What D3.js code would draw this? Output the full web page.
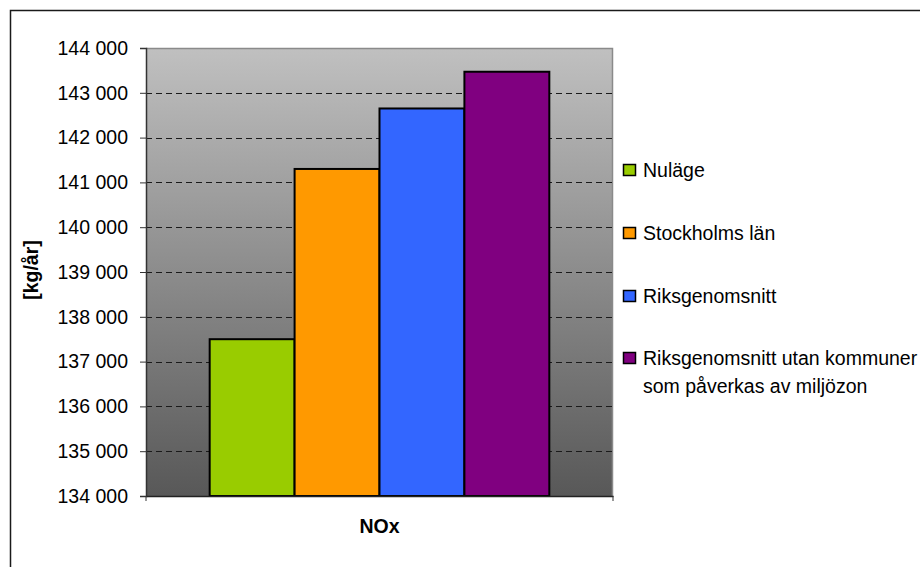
<!DOCTYPE html>
<html>
<head>
<meta charset="utf-8">
<script src="https://cdn.jsdelivr.net/npm/d3@7/dist/d3.min.js"></script>
<style>
  html, body { margin: 0; padding: 0; background: #fff; }
  svg { display: block; font-family: "Liberation Sans", Arial, sans-serif; }
</style>
</head>
<body>
<svg id="chart" width="920" height="567"></svg>
<script>
// Emission data: NOx per scenario, kg per year
const categories = ["NOx"];
const seriesNames = [
  "Nuläge",
  "Stockholms län",
  "Riksgenomsnitt",
  "Riksgenomsnitt utan kommuner som påverkas av miljözon"
];
const seriesValues = [137500, 141300, 142650, 143470];
const seriesColors = ["#99cc00", "#ff9900", "#3366ff", "#800080"];
const yTicks = [134000, 135000, 136000, 137000, 138000, 139000, 140000, 141000, 142000, 143000, 144000];
const legendLines = [
  ["Nuläge"],
  ["Stockholms län"],
  ["Riksgenomsnitt"],
  ["Riksgenomsnitt utan kommuner", "som påverkas av miljözon"]
];

const svg = d3.select("#chart");
const plot = { left: 146, top: 48, right: 613, bottom: 496 };

const sv = d3.formatLocale({ decimal: ",", thousands: "\u00a0", grouping: [3], currency: ["", " kr"] });
const fmt = sv.format(",d");

const y = d3.scaleLinear().domain([134000, 144000]).range([plot.bottom, plot.top]);
const x0 = d3.scaleBand().domain(categories).range([plot.left, plot.right]).padding(0);
const x1 = d3.scaleBand().domain(seriesNames).range([0, x0.bandwidth()])
  .paddingInner(0).paddingOuter(0.75);

// Outer chart frame
svg.append("rect")
  .attr("x", 10.5).attr("y", 10.5)
  .attr("width", 940).attr("height", 600)
  .attr("fill", "none").attr("stroke", "#1a1a1a").attr("stroke-width", 1.5);

// Plot background gradient
const defs = svg.append("defs");
const grad = defs.append("linearGradient")
  .attr("id", "plotBg").attr("x1", 0).attr("y1", 0).attr("x2", 0).attr("y2", 1);
grad.append("stop").attr("offset", "0%").attr("stop-color", "#c0c0c0");
grad.append("stop").attr("offset", "100%").attr("stop-color", "#585858");

svg.append("rect")
  .attr("x", plot.left).attr("y", plot.top)
  .attr("width", plot.right - plot.left).attr("height", plot.bottom - plot.top)
  .attr("fill", "url(#plotBg)");

// Plot border (top and right)
svg.append("path")
  .attr("d", `M${plot.left},${plot.top + 0.5}H${plot.right - 0.5}V${plot.bottom}`)
  .attr("fill", "none").attr("stroke", "#8a8a8a").attr("stroke-width", 1.5);

// Dashed gridlines
svg.append("g").selectAll("line")
  .data(yTicks.filter(t => t !== 134000 && t !== 144000))
  .join("line")
  .attr("x1", plot.left).attr("x2", plot.right - 1)
  .attr("y1", d => Math.round(y(d)) + 0.5).attr("y2", d => Math.round(y(d)) + 0.5)
  .attr("stroke", "#1a1a1a").attr("stroke-width", 1)
  .attr("stroke-dasharray", "6,4");

// Bars
const barG = svg.append("g").selectAll("g")
  .data(categories).join("g")
  .attr("transform", d => `translate(${x0(d)},0)`);
barG.selectAll("rect")
  .data(() => seriesNames.map((n, i) => ({ name: n, value: seriesValues[i], color: seriesColors[i] })))
  .join("rect")
  .attr("x", d => x1(d.name))
  .attr("y", d => y(d.value))
  .attr("width", x1.bandwidth())
  .attr("height", d => plot.bottom - y(d.value))
  .attr("fill", d => d.color)
  .attr("stroke", "#000").attr("stroke-width", 2);

// Y axis
const yAxis = d3.axisLeft(y).tickValues(yTicks).tickFormat(d => fmt(d).replace(/\u00a0/g, " "))
  .tickSize(6).tickPadding(12);
const yg = svg.append("g").attr("transform", `translate(${plot.left},0)`).call(yAxis);
yg.select(".domain").attr("stroke", "#333").attr("stroke-width", 1.5);
yg.selectAll(".tick line").attr("stroke", "#333").attr("stroke-width", 1);
yg.selectAll(".tick text")
  .attr("font-family", "Liberation Sans, Arial, sans-serif")
  .attr("font-size", "19.5px").attr("fill", "#000");

// X axis
const xAxis = d3.axisBottom(x0).tickSize(0).tickFormat("");
const xg = svg.append("g").attr("transform", `translate(0,${plot.bottom})`).call(xAxis);
xg.select(".domain").attr("stroke", "#222").attr("stroke-width", 1.5);
// category boundary ticks
xg.selectAll(".edge").data([plot.left, plot.right]).join("line")
  .attr("x1", d => d).attr("x2", d => d).attr("y1", 0).attr("y2", 5)
  .attr("stroke", "#333").attr("stroke-width", 1);

// Category label
svg.append("text")
  .attr("x", x0("NOx") + x0.bandwidth() / 2).attr("y", 533)
  .attr("text-anchor", "middle")
  .attr("font-size", "19.5px").attr("font-weight", "bold")
  .text(categories[0]);

// Y axis title
svg.append("text")
  .attr("transform", "translate(38,270) rotate(-90)")
  .attr("text-anchor", "middle")
  .attr("font-size", "19.5px").attr("font-weight", "bold")
  .text("[kg/år]");

// Legend
const legendY = [170, 233, 296, 358];
const leg = svg.append("g").selectAll("g")
  .data(seriesNames).join("g")
  .attr("transform", (d, i) => `translate(623,${legendY[i]})`);
leg.append("rect")
  .attr("x", 0.5).attr("y", -5.5).attr("width", 12).attr("height", 11)
  .attr("fill", (d, i) => seriesColors[i])
  .attr("stroke", "#000").attr("stroke-width", 1.5);
leg.each(function (d, i) {
  const t = d3.select(this).append("text")
    .attr("x", 20).attr("y", 7)
    .attr("font-size", "19.5px").attr("fill", "#000");
  legendLines[i].forEach((line, j) => {
    t.append("tspan").attr("x", 20).attr("dy", j === 0 ? 0 : 28).text(line);
  });
});
</script>
</body>
</html>
